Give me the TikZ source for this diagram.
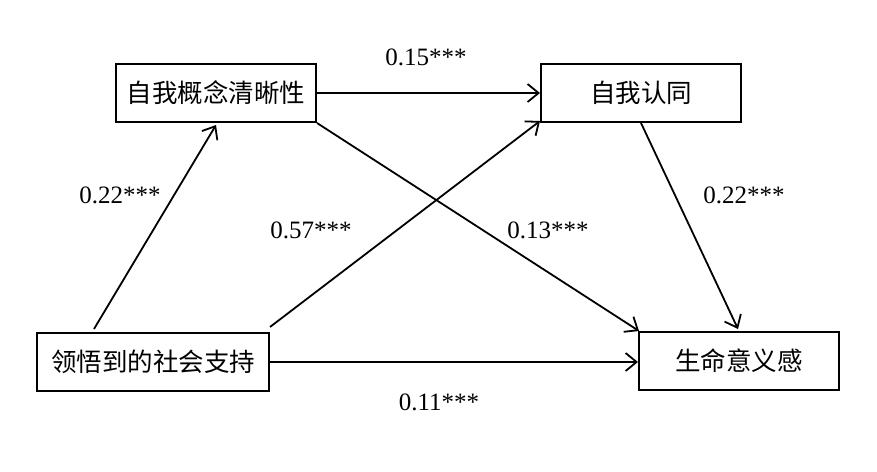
\documentclass[tikz,border=0pt]{standalone}
\usepackage{fontspec}
\setmainfont{Liberation Serif}
\newfontfamily\cjk{Noto Sans CJK SC}
\usetikzlibrary{arrows.meta}
\begin{document}
\begin{tikzpicture}[x=1pt,y=-1pt,
  boxnode/.style={draw=black,line width=2pt,minimum height=58pt,inner sep=0pt,font=\cjk\fontsize{25.5}{25.5}\selectfont},
  conn/.style={line width=1.8pt,-{Straight Barb[length=11pt,width=18pt,line width=1.8pt]}},
  coef/.style={font=\fontsize{25}{25}\selectfont,inner sep=0pt}]
\useasboundingbox[fill=white] (0,0) rectangle (877,471);
\node[boxnode,minimum width=200pt] (b1) at (216,93) {自我概念清晰性};
\node[boxnode,minimum width=200pt] (b2) at (641,93) {自我认同};
\node[boxnode,minimum width=232pt] (b3) at (153,362) {领悟到的社会支持};
\node[boxnode,minimum width=200pt] (b4) at (739,361) {生命意义感};
\draw[conn] (b1.east) -- (b2.west);
\draw[conn] ([xshift=58pt,yshift=3pt]b3.north west) -- ([yshift=-2pt]b1.south);
\draw[conn] ([yshift=5pt]b3.north east) -- ([yshift=2pt]b2.south west);
\draw[conn] (b1.south east) -- ([xshift=1pt]b4.north west);
\draw[conn] (b2.south) -- ([xshift=-1pt,yshift=2pt]b4.north);
\draw[conn] (b3.east) -- (b3.east -| b4.west);
\node[coef] (l1) at (426,57) {0.15***};
\node[coef] (l2) at (120,195) {0.22***};
\node[coef] (l3) at (311,230) {0.57***};
\node[coef] (l4) at (548,230) {0.13***};
\node[coef] (l5) at (744,195) {0.22***};
\node[coef] (l6) at (439,402) {0.11***};
\end{tikzpicture}
\end{document}
